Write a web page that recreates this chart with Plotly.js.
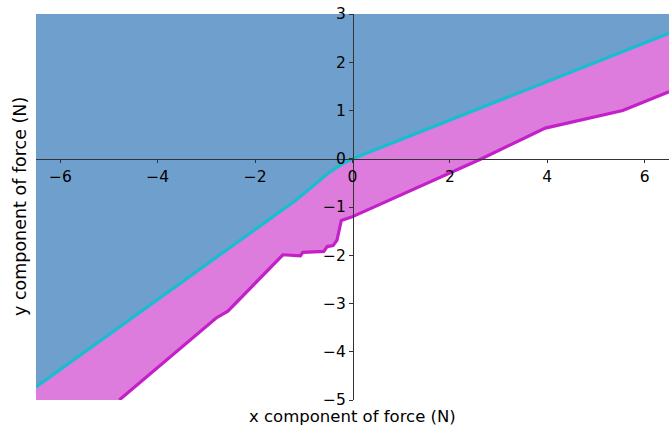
<!DOCTYPE html>
<html>
<head>
<meta charset="utf-8">
<script src="https://cdn.plot.ly/plotly-3.0.1.min.js"></script>
<style>html,body{margin:0;padding:0;background:#fff;}#chart{width:670px;height:425px;}</style>
</head>
<body>
<div id="chart"></div>
<script>
// Data
var xRange = [-6.5, 6.5];
var yRange = [-5, 3];
var cyanX = [-6.5, -1.15, -0.5, -0.2, 0, 6.5];
var cyanY = [-4.73, -0.85, -0.3, -0.1, 0, 2.6];
var magX = [-4.79, -2.80, -2.56, -1.43, -1.07, -1.02, -0.59, -0.52, -0.40, -0.32, -0.23, -0.02, 2.65, 3.96, 5.55, 6.5];
var magY = [-5, -3.30, -3.16, -1.99, -2.01, -1.94, -1.92, -1.82, -1.80, -1.69, -1.28, -1.21, 0, 0.635, 1.0, 1.39];
var xTicks = [-6, -4, -2, 0, 2, 4, 6];
var yTicks = [-5, -4, -3, -2, -1, 0, 1, 2, 3];
var xTitle = "x component of force (N)";
var yTitle = "y component of force (N)";

var blueFillX = cyanX.concat([xRange[1], xRange[0]]);
var blueFillY = cyanY.concat([yRange[1], yRange[1]]);
var magFillX = cyanX.concat(magX.slice().reverse()).concat([xRange[0]]);
var magFillY = cyanY.concat(magY.slice().reverse()).concat([yRange[0]]);

var traces = [
  {x: blueFillX, y: blueFillY, mode: 'none', fill: 'toself', fillcolor: '#6f9fcd', hoverinfo: 'skip', showlegend: false},
  {x: magFillX, y: magFillY, mode: 'none', fill: 'toself', fillcolor: '#dd7cdc', hoverinfo: 'skip', showlegend: false},
  {x: cyanX, y: cyanY, mode: 'lines', line: {color: '#17becf', width: 3.2}, showlegend: false},
  {x: magX, y: magY, mode: 'lines', line: {color: '#c41fc8', width: 3.2}, showlegend: false}
];

var fam = 'DejaVu Sans, sans-serif';
var layout = {
  width: 670, height: 425,
  margin: {l: 36, r: 1, t: 14, b: 25, pad: 0},
  paper_bgcolor: '#ffffff', plot_bgcolor: '#ffffff',
  font: {family: fam, size: 15.5, color: '#000'},
  xaxis: {
    range: xRange, anchor: 'free', position: (0 - yRange[0]) / (yRange[1] - yRange[0]),
    showgrid: false, zeroline: false, showline: true, linecolor: '#333', linewidth: 1,
    ticks: 'outside', ticklen: 3.5, tickcolor: '#333', tickwidth: 1,
    tickmode: 'array', tickvals: xTicks, tickfont: {family: fam, size: 15.5, color: '#000'}
  },
  yaxis: {
    range: yRange, anchor: 'free', position: (0 - xRange[0]) / (xRange[1] - xRange[0]),
    showgrid: false, zeroline: false, showline: true, linecolor: '#333', linewidth: 1,
    ticks: 'outside', ticklen: 3.5, tickcolor: '#333', tickwidth: 1,
    tickmode: 'array', tickvals: yTicks, tickfont: {family: fam, size: 15.5, color: '#000'}
  },
  annotations: [
    {text: xTitle, xref: 'paper', yref: 'paper', x: 0.5, y: 0, xanchor: 'center', yanchor: 'middle', yshift: -16, showarrow: false, font: {family: fam, size: 16.5, color: '#000'}},
    {text: yTitle, xref: 'paper', yref: 'paper', x: 0, y: 0.5, xanchor: 'center', yanchor: 'middle', xshift: -16, textangle: -90, showarrow: false, font: {family: fam, size: 17.5, color: '#000'}}
  ]
};

Plotly.newPlot('chart', traces, layout, {staticPlot: true, displayModeBar: false});
</script>
</body>
</html>
